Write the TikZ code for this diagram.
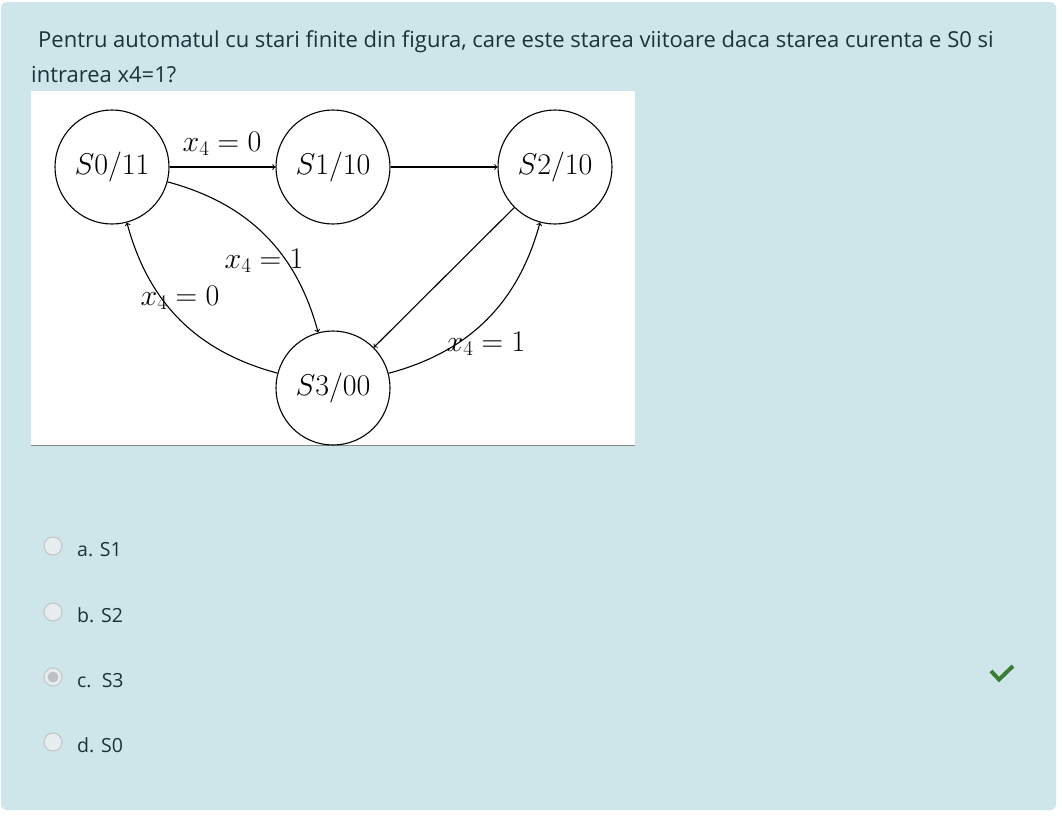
\documentclass[tikz,border=0pt]{standalone}
\usepackage{fix-cm}
\usepackage{fontspec}
\setmainfont{Open Sans}
\usetikzlibrary{positioning,arrows}
\definecolor{panelbg}{RGB}{206,230,234}
\definecolor{quizink}{RGB}{28,50,58}
\definecolor{radioline}{RGB}{196,203,206}
\definecolor{radiofill}{RGB}{232,238,240}
\definecolor{radiodot}{RGB}{190,193,195}
\definecolor{okgreen}{RGB}{58,124,52}
\definecolor{figrule}{RGB}{130,136,138}

\begin{document}
\begin{tikzpicture}[x=1pt,y=1pt,
  state/.style={draw=black,circle,minimum size=114pt,inner sep=0pt,line width=1.1pt,
    font=\fontsize{30}{36}\selectfont},
  trans/.style={->,line width=1.1pt},
  cond/.style={inner sep=0pt,font=\fontsize{30}{36}\selectfont},
  prompt/.style={anchor=base west,inner sep=0pt,text=quizink,font=\fontsize{22}{26}\selectfont},
  radio/.style={circle,draw=radioline,fill=radiofill,line width=1.3pt,minimum size=18pt,inner sep=0pt},
  answer/.style={anchor=base west,inner sep=0pt,text=quizink,font=\fontsize{19.5}{23}\selectfont}]
\useasboundingbox (0,0) rectangle (1062,-815);
\fill [white] (0,0) rectangle (1062,-815);
\fill [panelbg,rounded corners=6pt] (1,-2) rectangle (1056,-810);
% question text
\node [prompt] (q1) at (38,-47) {Pentru automatul cu stari finite din figura, care este starea viitoare daca starea curenta e S0 si};
\node [prompt] (q2) at (31,-82) {intrarea x4=1?};
% figure
\fill [white] (31,-91) rectangle (635,-445);
\draw [figrule,line width=1pt] (31,-445) -- (635,-445);
\node [state] (s0) at (112,-167) {$S0/11$};
\node [state] (s1) at (333,-167) {$S1/10$};
\node [state] (s2) at (555,-167) {$S2/10$};
\node [state] (s3) at (333,-388) {$S3/00$};
\draw [trans] (s0) -- (s1);
\draw [trans] (s1) -- (s2);
\draw [trans] (s0) to [bend left=30] (s3);
\draw [trans] (s3) to [bend left=30] (s0);
\draw [trans] (s2) -- (s3);
\draw [trans] (s3) to [bend right=30] (s2);
\node [cond] (c01) at (222,-144) {$x_4=0$};
\node [cond] (c03) at (264,-261) {$x_4=1$};
\node [cond] (c30) at (180,-298) {$x_4=0$};
\node [cond] (c32) at (486,-344) {$x_4=1$};
% answers
\foreach \y/\txt [count=\i] in {546/a. S1,612/b. S2,677/c.\ \ S3,742/d. S0}{
  \node [radio] (r\i) at (53,-\y) {};
  \node [answer] (a\i) at (77,-\y-10) {\txt};
}
\fill [radiodot] (r3) circle (5.5);
% mark
\draw [okgreen,line width=4pt] (991,-671) -- (999,-679.5) -- (1013,-666);
\end{tikzpicture}
\end{document}
